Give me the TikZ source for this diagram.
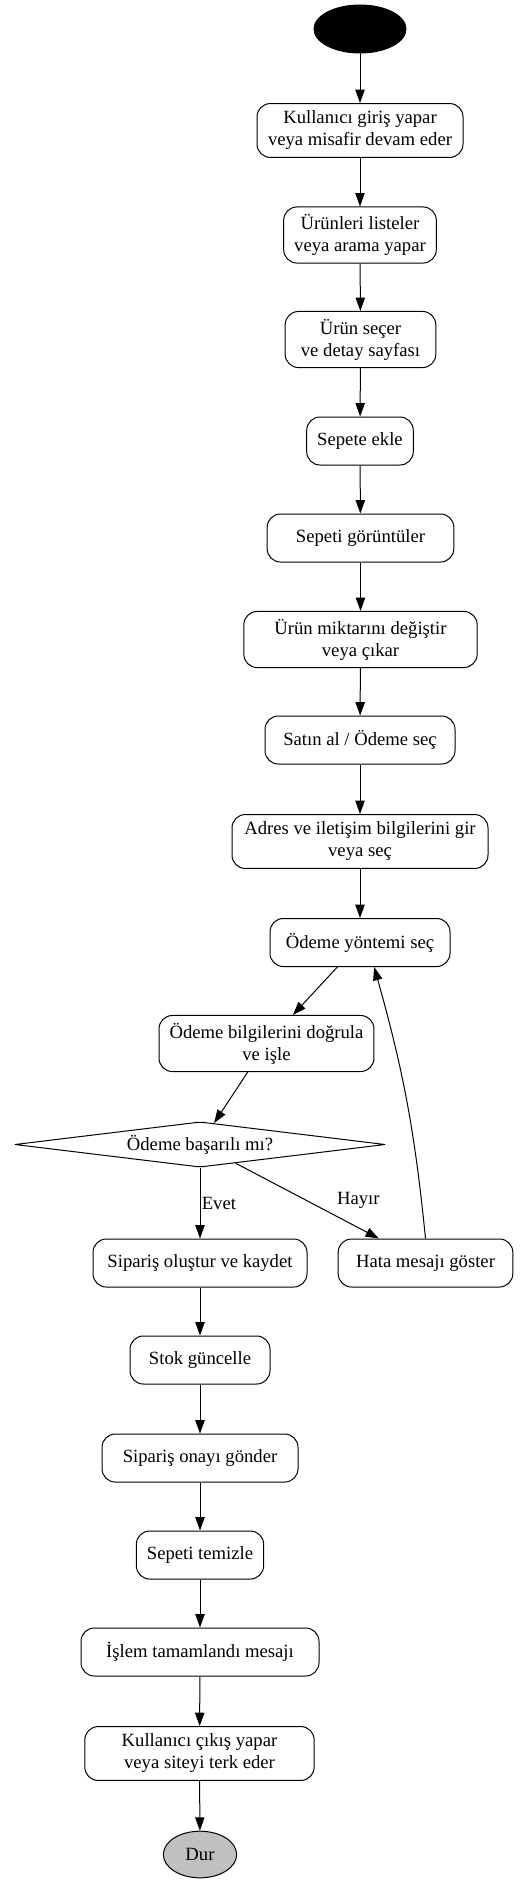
\documentclass[tikz,border=0pt]{standalone}
\usepackage{fontspec}
\setmainfont{Liberation Serif}
\usetikzlibrary{shapes.geometric, arrows.meta, positioning, calc}
\definecolor{stopgray}{HTML}{C0C0C0}

\begin{document}
\begin{tikzpicture}[
		x=0.75pt, y=-0.75pt,
		font=\fontsize{14pt}{16.5pt}\selectfont,
		% Style for the activity boxes
		act/.style={
			draw, rounded corners=10pt, align=center, line width=0.75pt,
			inner xsep=7.9pt, inner ysep=5.6pt, minimum height=36pt
		},
		% Style for the decision diamond
		decision/.style={
			draw, diamond, aspect=8.2, inner sep=0pt, line width=0.75pt,
			minimum width=278pt, minimum height=34pt, rounded corners=1.5pt
		},
		% Start and end markers
		start dot/.style={draw, ellipse, fill=black, inner sep=0pt, line width=0.75pt,
			minimum width=69pt, minimum height=36pt},
		stop dot/.style={draw, ellipse, fill=stopgray, inner sep=0pt, line width=0.75pt,
			minimum width=55pt, minimum height=35pt},
		% Connector styles
		arrow/.style={-{Triangle[length=10pt, width=7pt]}, line width=0.75pt},
		edge label/.style={inner sep=1pt}
		]
		
		\path[use as bounding box, fill=white] (0,0) rectangle (519,1884);
		
		% --- 1. Browsing and cart ---
		\node[start dot] (start) at (360, 29) {};
		\node[act, minimum width=154.5pt] (login) at (360, 130.5) {Kullanıcı giriş yapar\\veya misafir devam eder};
		\node[act, minimum width=114pt] (list) at (360, 235) {Ürünleri listeler\\veya arama yapar};
		\node[act, minimum width=113pt] (select) at (360.5, 339.5) {Ürün seçer\\ve detay sayfası};
		\node[act, minimum width=79.5pt] (addcart) at (360, 441) {Sepete ekle};
		\node[act, minimum width=140pt] (viewcart) at (360.5, 538) {Sepeti görüntüler};
		\node[act, minimum width=175pt] (qty) at (360.5, 639.5) {Ürün miktarını değiştir\\veya çıkar};
		
		% --- 2. Checkout ---
		\node[act, minimum width=142.5pt] (checkout) at (360, 740) {Satın al / Ödeme seç};
		\node[act, minimum width=192pt] (address) at (360, 841.5) {Adres ve iletişim bilgilerini gir\\veya seç};
		\node[act, minimum width=135pt] (paymethod) at (360, 942.5) {Ödeme yöntemi seç};
		\node[act, minimum width=160pt] (verify) at (266.5, 1043.5) {Ödeme bilgilerini doğrula\\ve işle};
		\node[decision] (paid) at (200, 1144.5) {Ödeme başarılı mı?};
		
		% --- 3. Success and error branches ---
		\node[act, minimum width=160.5pt] (order) at (200, 1263) {Sipariş oluştur ve kaydet};
		\node[act, minimum width=131pt] (error) at (425.5, 1263) {Hata mesajı göster};
		\node[act, minimum width=105pt] (stock) at (200, 1360) {Stok güncelle};
		\node[act, minimum width=147pt] (confirm) at (200, 1458) {Sipariş onayı gönder};
		\node[act, minimum width=95pt] (clearcart) at (200, 1555) {Sepeti temizle};
		\node[act, minimum width=178.5pt] (done) at (200, 1652) {İşlem tamamlandı mesajı};
		\node[act, minimum width=172pt] (logout) at (199.5, 1753.5) {Kullanıcı çıkış yapar\\veya siteyi terk eder};
		\node[stop dot] (stop) at (200, 1854.5) {Dur};
		
		% --- 4. Arrows ---
		\draw[arrow] (start) -- (login);
		\draw[arrow] (login) -- (list);
		\draw[arrow] (list) -- (select);
		\draw[arrow] (select) -- (addcart);
		\draw[arrow] (addcart) -- (viewcart);
		\draw[arrow] (viewcart) -- (qty);
		\draw[arrow] (qty) -- (checkout);
		\draw[arrow] (checkout) -- (address);
		\draw[arrow] (address) -- (paymethod);
		\draw[arrow] (paymethod) -- (verify);
		\draw[arrow] (verify) -- (paid);
		\draw[arrow] (paid.south) -- node[edge label, midway, right] {Evet} (order.north);
		\draw[arrow] (paid) -- node[edge label, midway, right=21pt] {Hayır} (error);
		\draw[arrow] (error.north) to[bend right=5] (paymethod.-60);
		\draw[arrow] (order) -- (stock);
		\draw[arrow] (stock) -- (confirm);
		\draw[arrow] (confirm) -- (clearcart);
		\draw[arrow] (clearcart) -- (done);
		\draw[arrow] (done) -- (logout);
		\draw[arrow] (logout) -- (stop);
		
	\end{tikzpicture}
\end{document}
